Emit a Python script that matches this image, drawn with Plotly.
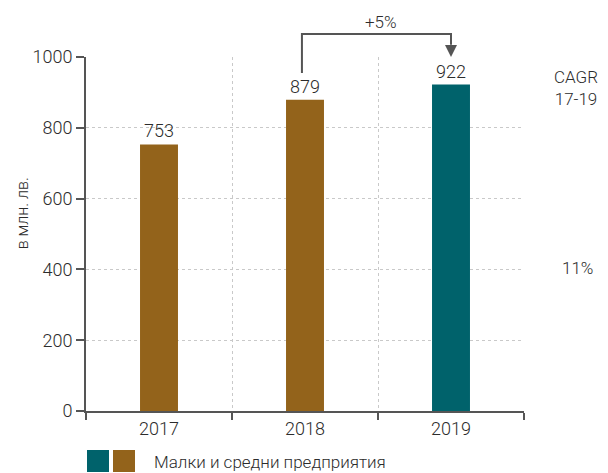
import plotly.graph_objects as go

# Revenue of small and medium enterprises, million BGN
years = ["2017", "2018", "2019"]
values = [753, 879, 922]
bar_colors = ["#93631B", "#93631B", "#00626B"]
y_ticks = [0, 200, 400, 600, 800, 1000]
growth_label = "+5%"
cagr_label = "CAGR<br>17-19"
cagr_value = "11%"
y_title = "в млн. лв."
legend_label = "Малки и средни предприятия"

TEXT = "#2c2c2c"
AXIS = "#555555"
FONT = "Roboto, Liberation Sans, sans-serif"
W = 300  # light weight

fig = go.Figure(
    go.Bar(
        x=years,
        y=values,
        marker=dict(color=bar_colors, line=dict(width=0)),
        width=0.26,
        text=[str(v) for v in values],
        textposition="outside",
        textfont=dict(size=18, color=TEXT, family=FONT, weight=W),
        cliponaxis=False,
        showlegend=False,
    )
)

fig.update_layout(
    width=608,
    height=473,
    margin=dict(l=86, r=84, t=57, b=62),
    paper_bgcolor="white",
    plot_bgcolor="white",
    font=dict(family=FONT, color=TEXT, size=18, weight=W),
    xaxis=dict(
        type="category",
        range=[-0.5, 2.5],
        tickson="boundaries",
        ticks="outside",
        ticklen=7,
        tickwidth=1.5,
        tickcolor=AXIS,
        showline=True,
        linecolor=AXIS,
        linewidth=2,
        showgrid=True,
        gridcolor="#c9c9c9",
        gridwidth=1,
        griddash="dot",
        tickfont=dict(size=18, color=TEXT, weight=W),
    ),
    yaxis=dict(
        range=[0, 1000],
        tickvals=y_ticks,
        ticks="outside",
        ticklen=8,
        tickwidth=1.5,
        tickcolor=AXIS,
        showline=True,
        linecolor=AXIS,
        linewidth=2,
        showgrid=True,
        gridcolor="#c9c9c9",
        gridwidth=1,
        griddash="dot",
        zeroline=False,
        tickfont=dict(size=18, color=TEXT, weight=W),
    ),
)

# Growth bracket from 2018 to 2019
x18 = (1 + 0.5) / 3 - 0.007
x19 = (2 + 0.5) / 3
fig.add_shape(
    type="path",
    xref="paper",
    yref="paper",
    path=f"M {x18} 0.955 L {x18} 1.065 L {x19} 1.065 L {x19} 1.035",
    line=dict(color=AXIS, width=2),
)
fig.add_annotation(
    xref="paper", yref="paper",
    x=x19, y=1.0, ax=0, ay=-14,
    showarrow=True, arrowhead=2, arrowsize=1.2, arrowwidth=2,
    arrowcolor=AXIS, text="",
)
fig.add_annotation(
    xref="paper", yref="paper", x=0.674, y=1.099,
    xanchor="center", yanchor="middle",
    text=growth_label, showarrow=False,
    font=dict(size=17, color=TEXT, weight=W),
)

# CAGR note on the right
fig.add_annotation(
    xref="paper", yref="paper", x=1.118, y=0.913,
    xanchor="center", yanchor="middle",
    text=cagr_label, showarrow=False, align="center",
    font=dict(size=17, color=TEXT, weight=W),
)
fig.add_annotation(
    xref="paper", yref="paper", x=1.123, y=0.404,
    xanchor="center", yanchor="middle",
    text=cagr_value, showarrow=False,
    font=dict(size=17, color=TEXT, weight=W),
)

# Rotated y-axis title
fig.add_annotation(
    xref="paper", yref="paper", x=-0.145, y=0.56,
    xanchor="center", yanchor="middle",
    text=y_title, textangle=-90, showarrow=False,
    font=dict(size=16, color=TEXT, weight=W),
)

# Legend: two swatches and label
for i, c in enumerate(["#00626B", "#93631B"]):
    x0 = 87 + i * 26
    fig.add_shape(
        type="rect", xref="paper", yref="paper",
        x0=(x0 - 86) / 438, x1=(x0 + 22 - 86) / 438,
        y0=(411 - 472) / 354, y1=(411 - 450) / 354,
        fillcolor=c, line=dict(width=0),
    )
fig.add_annotation(
    xref="paper", yref="paper", x=(152 - 86) / 438, y=(411 - 462) / 354,
    xanchor="left", yanchor="middle", text=legend_label, showarrow=False,
    font=dict(size=17, color=TEXT, weight=W),
)

fig.write_html("out.html")
